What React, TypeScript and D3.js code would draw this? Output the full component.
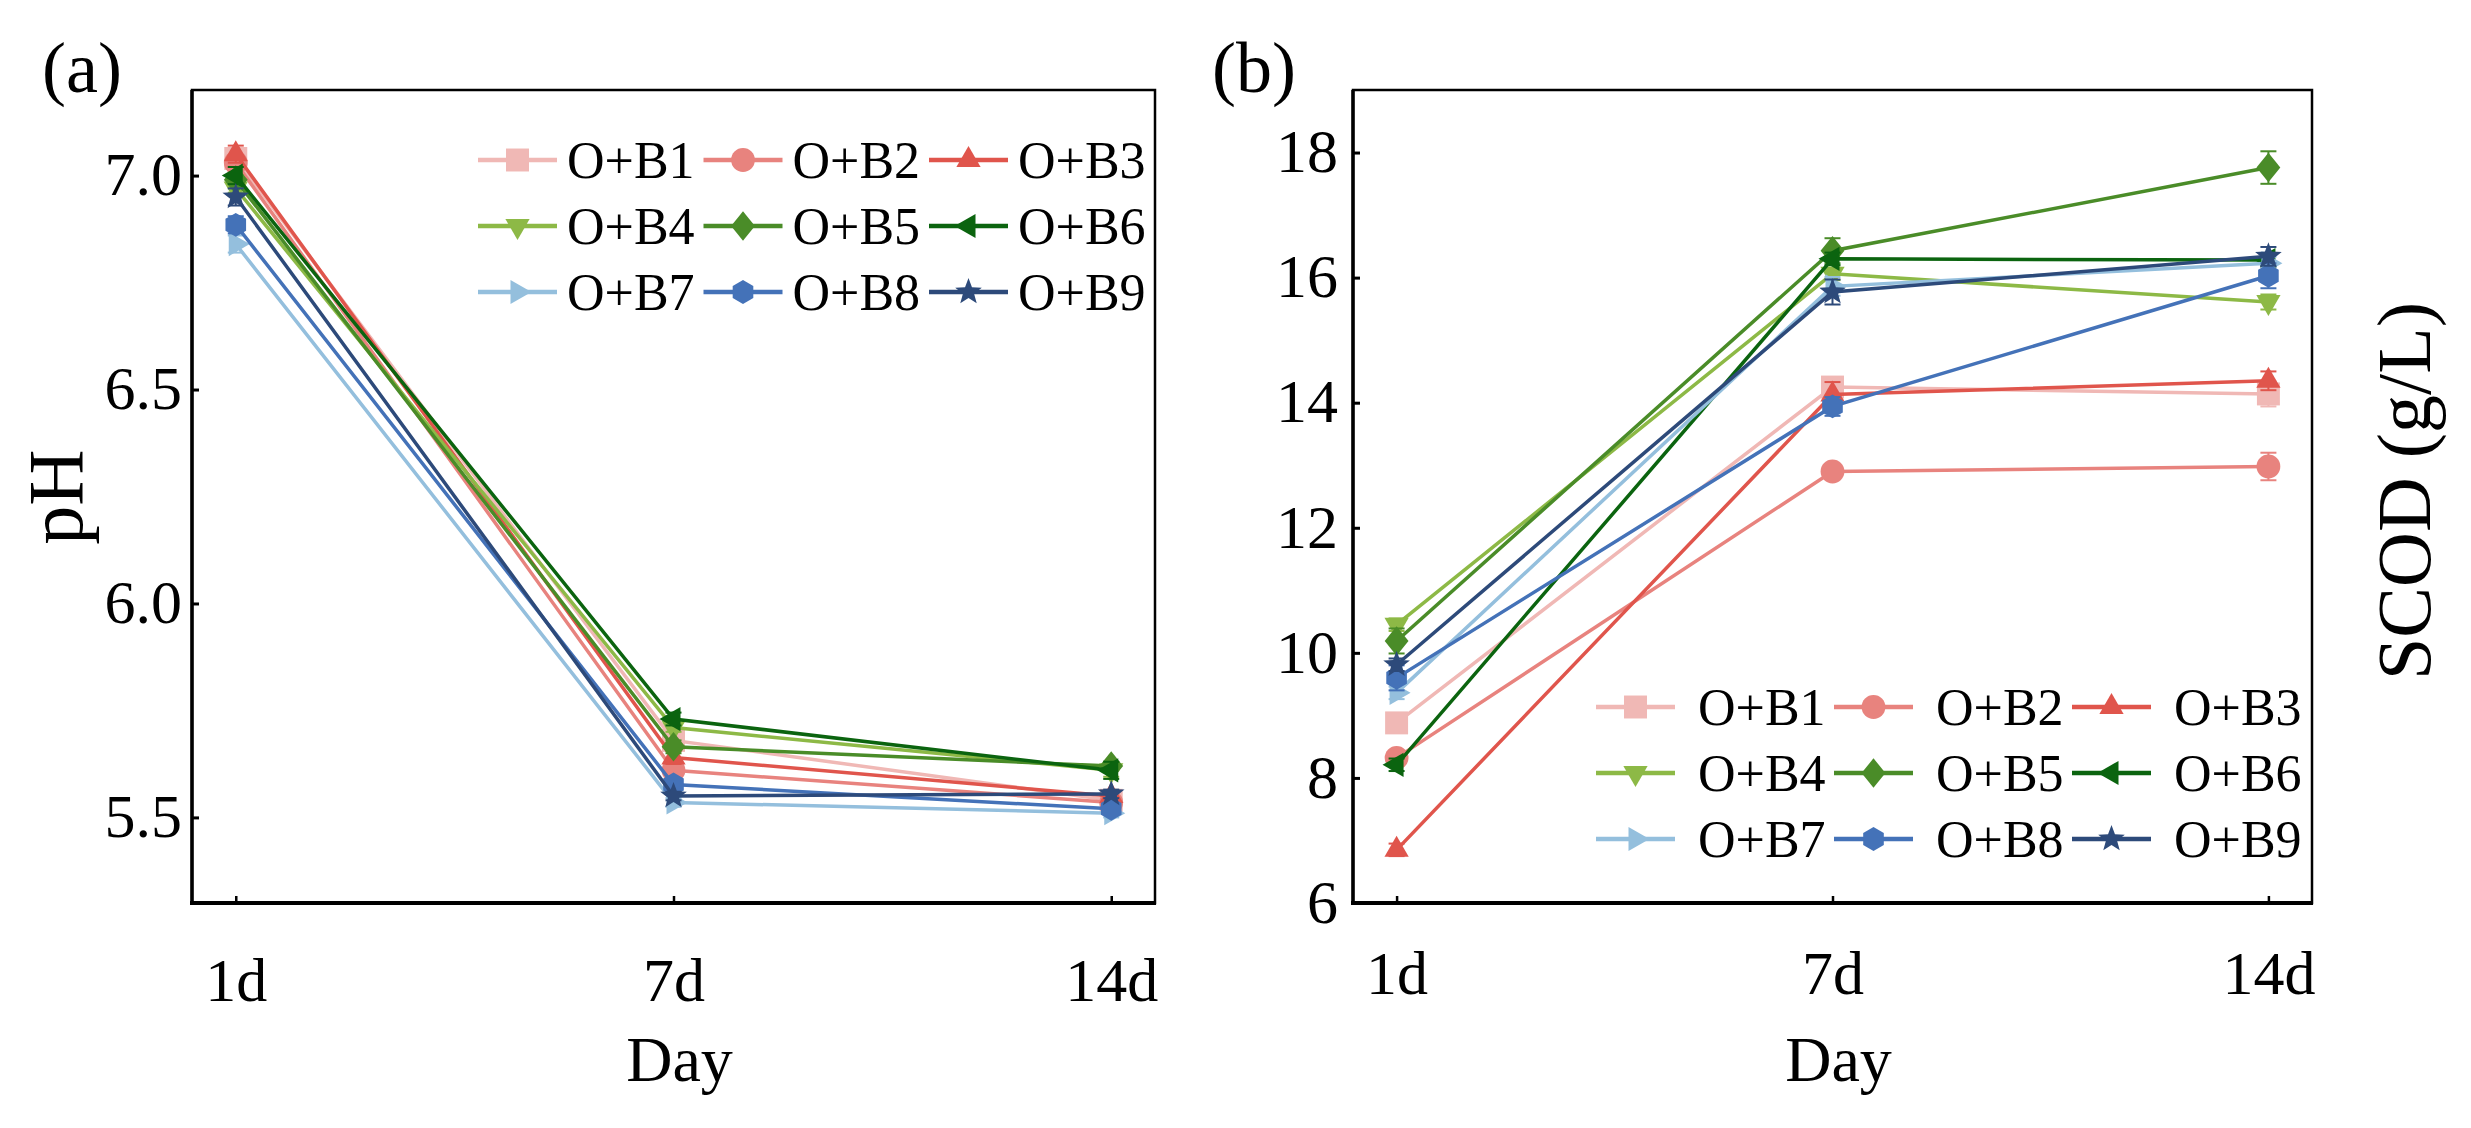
import { useEffect, useRef } from 'react';
import * as d3 from 'd3';

const days = ['1d', '7d', '14d'];
const seriesNames = ['O+B1', 'O+B2', 'O+B3', 'O+B4', 'O+B5', 'O+B6', 'O+B7', 'O+B8', 'O+B9'];
const seriesColors = ['#f0b8b5', '#e8837e', '#e0554c', '#8db946', '#4a8c28', '#0b640f', '#94bfdd', '#4472b8', '#2d4a7a'];
const seriesMarkers = ['square', 'circle', 'triUp', 'triDown', 'diamond', 'triLeft', 'triRight', 'hexagon', 'star'];

// pH values (1d, 7d, 14d)
const phValues = [
  [7.04, 5.68, 5.54],
  [7.03, 5.61, 5.535],
  [7.05, 5.64, 5.55],
  [6.97, 5.71, 5.61],
  [6.99, 5.665, 5.62],
  [7.0, 5.73, 5.61],
  [6.84, 5.535, 5.51],
  [6.885, 5.577, 5.52],
  [6.95, 5.55, 5.555],
];
const phErrors = [
  [0.02, 0.01, 0.01],
  [0.01, 0.01, 0.01],
  [0.02, 0.015, 0.01],
  [0.01, 0.01, 0.015],
  [0.01, 0.015, 0.01],
  [0.02, 0.015, 0.02],
  [0.02, 0.01, 0.01],
  [0.02, 0.015, 0.01],
  [0.02, 0.01, 0.01],
];

// SCOD values, g/L (1d, 7d, 14d)
const scodValues = [
  [8.88, 14.25, 14.14],
  [8.32, 12.9, 12.98],
  [6.85, 14.13, 14.35],
  [10.45, 16.06, 15.61],
  [10.19, 16.43, 17.76],
  [8.21, 16.3, 16.28],
  [9.36, 15.86, 16.23],
  [9.6, 13.94, 16.03],
  [9.81, 15.77, 16.34],
];
const scodErrors = [
  [0.1, 0.15, 0.2],
  [0.1, 0.1, 0.22],
  [0.1, 0.2, 0.15],
  [0.1, 0.1, 0.12],
  [0.2, 0.2, 0.26],
  [0.1, 0.1, 0.1],
  [0.1, 0.15, 0.1],
  [0.2, 0.15, 0.2],
  [0.1, 0.2, 0.15],
];

const phTicks = [5.5, 6.0, 6.5, 7.0];
const scodTicks = [6, 8, 10, 12, 14, 16, 18];

const FONT = "'Times New Roman', 'Liberation Serif', serif";

// custom marker shapes
function poly(ctx: any, pts: [number, number][]) {
  ctx.moveTo(pts[0][0], pts[0][1]);
  pts.slice(1).forEach(p => ctx.lineTo(p[0], p[1]));
  ctx.closePath();
}
function triangle(angle: number) {
  return {
    draw(ctx: any, size: number) {
      const r = size;
      const pts: [number, number][] = [0, 1, 2].map(i => {
        const a = angle + (i * 2 * Math.PI) / 3;
        return [r * Math.cos(a), r * Math.sin(a)];
      });
      poly(ctx, pts);
    },
  };
}
const markerTypes: Record<string, any> = {
  square: { draw(ctx: any, s: number) { const h = s * 0.82; poly(ctx, [[-h, -h], [h, -h], [h, h], [-h, h]]); } },
  circle: { draw(ctx: any, s: number) { ctx.moveTo(s * 0.85, 0); ctx.arc(0, 0, s * 0.85, 0, 2 * Math.PI); } },
  triUp: triangle(-Math.PI / 2),
  triDown: triangle(Math.PI / 2),
  triLeft: triangle(Math.PI),
  triRight: triangle(0),
  diamond: { draw(ctx: any, s: number) { poly(ctx, [[0, -s * 1.05], [s * 0.85, 0], [0, s * 1.05], [-s * 0.85, 0]]); } },
  hexagon: {
    draw(ctx: any, s: number) {
      const r = s * 0.85;
      poly(ctx, d3.range(6).map(i => {
        const a = -Math.PI / 2 + (i * Math.PI) / 3;
        return [r * Math.cos(a), r * Math.sin(a)] as [number, number];
      }));
    },
  },
  star: {
    draw(ctx: any, s: number) {
      const ro = s, ri = s * 0.42;
      poly(ctx, d3.range(10).map(i => {
        const a = -Math.PI / 2 + (i * Math.PI) / 5;
        const r = i % 2 === 0 ? ro : ri;
        return [r * Math.cos(a), r * Math.sin(a)] as [number, number];
      }));
    },
  },
};

interface PanelCfg {
  x0: number; x1: number; y0: number; y1: number;
  domain: [number, number];
  ticks: number[];
  fmt: (v: number) => string;
  values: number[][];
  errors: number[][];
  tickPadY: number;
  tickPadX: number;
  legendX: number; legendY: number; legendColStep: number; legendTextOff: number;
}

function drawPanel(svg: d3.Selection<SVGSVGElement, unknown, null, undefined>, cfg: PanelCfg) {
  const x = d3.scalePoint<string>().domain(days).range([cfg.x0, cfg.x1]).padding(0.1);
  const y = d3.scaleLinear().domain(cfg.domain).range([cfg.y1, cfg.y0]);
  const g = svg.append('g');

  // axes
  const yAxis = g.append('g')
    .attr('transform', `translate(${cfg.x0},0)`)
    .call(d3.axisLeft(y).tickValues(cfg.ticks).tickFormat(d => cfg.fmt(+d)).tickSize(-7).tickPadding(cfg.tickPadY));
  yAxis.select('.domain').remove();
  yAxis.selectAll('line').attr('stroke', '#000').attr('stroke-width', 3);
  yAxis.selectAll('text').attr('font-family', FONT).attr('font-size', 62).attr('fill', '#000').attr('dy', '0.31em');

  const xAxis = g.append('g')
    .attr('transform', `translate(0,${cfg.y1})`)
    .call(d3.axisBottom(x).tickSize(-7).tickPadding(cfg.tickPadX));
  xAxis.select('.domain').remove();
  xAxis.selectAll('line').attr('stroke', '#000').attr('stroke-width', 2.5);
  xAxis.selectAll('text').attr('font-family', FONT).attr('font-size', 62).attr('fill', '#000');

  // frame
  g.append('rect')
    .attr('x', cfg.x0).attr('y', cfg.y0)
    .attr('width', cfg.x1 - cfg.x0).attr('height', cfg.y1 - cfg.y0)
    .attr('fill', 'none').attr('stroke', '#000').attr('stroke-width', 2.5);
  g.append('line').attr('x1', cfg.x0).attr('x2', cfg.x0).attr('y1', cfg.y0).attr('y2', cfg.y1 + 2)
    .attr('stroke', '#000').attr('stroke-width', 3.5);
  g.append('line').attr('x1', cfg.x0 - 2).attr('x2', cfg.x1 + 1).attr('y1', cfg.y1).attr('y2', cfg.y1)
    .attr('stroke', '#000').attr('stroke-width', 4);

  // series
  const line = d3.line<number>().x((_, i) => x(days[i]) || 0).y(d => y(d));
  cfg.values.forEach((vals, si) => {
    const color = seriesColors[si];
    const sg = g.append('g');
    sg.append('path').datum(vals).attr('d', line)
      .attr('fill', 'none').attr('stroke', color).attr('stroke-width', 3.5);
    vals.forEach((v, i) => {
      const cx = x(days[i]) || 0;
      const e = cfg.errors[si][i];
      const eb = sg.append('g').attr('stroke', color).attr('stroke-width', 2);
      eb.append('line').attr('x1', cx).attr('x2', cx).attr('y1', y(v - e)).attr('y2', y(v + e));
      eb.append('line').attr('x1', cx - 8).attr('x2', cx + 8).attr('y1', y(v - e)).attr('y2', y(v - e));
      eb.append('line').attr('x1', cx - 8).attr('x2', cx + 8).attr('y1', y(v + e)).attr('y2', y(v + e));
    });
    sg.selectAll('path.mk').data(vals).join('path').attr('class', 'mk')
      .attr('d', d3.symbol().type(markerTypes[seriesMarkers[si]]).size(14) as any)
      .attr('transform', (d, i) => `translate(${x(days[i])},${y(d)})`)
      .attr('fill', color);
  });

  // legend
  const lg = g.append('g');
  seriesNames.forEach((name, si) => {
    const col = si % 3, row = Math.floor(si / 3);
    const lx = cfg.legendX + col * cfg.legendColStep;
    const ly = cfg.legendY + row * 66;
    lg.append('line').attr('x1', lx).attr('x2', lx + 79).attr('y1', ly).attr('y2', ly)
      .attr('stroke', seriesColors[si]).attr('stroke-width', 4.5);
    lg.append('path')
      .attr('d', d3.symbol().type(markerTypes[seriesMarkers[si]]).size(14) as any)
      .attr('transform', `translate(${lx + 39.5},${ly})`)
      .attr('fill', seriesColors[si]);
    lg.append('text').attr('x', lx + cfg.legendTextOff).attr('y', ly).attr('dy', '0.34em')
      .attr('font-family', FONT).attr('font-size', 52).attr('fill', '#000').text(name);
  });

  // x title
  g.append('text').attr('x', (cfg.x0 + cfg.x1) / 2 + 6).attr('y', 1081)
    .attr('text-anchor', 'middle').attr('font-family', FONT).attr('font-size', 64).text('Day');
}

export default function App() {
  const svgRef = useRef<SVGSVGElement>(null);

  useEffect(() => {
    if (!svgRef.current) return;
    const svg = d3.select(svgRef.current);
    svg.selectAll('*').remove();

    drawPanel(svg, {
      x0: 192, x1: 1155, y0: 90, y1: 903,
      domain: [5.3, 7.2], ticks: phTicks, fmt: d3.format('.1f'),
      values: phValues, errors: phErrors,
      tickPadY: 10, tickPadX: 54,
      legendX: 478, legendY: 160, legendColStep: 225.5, legendTextOff: 89,
    });
    drawPanel(svg, {
      x0: 1353, x1: 2312, y0: 90, y1: 903,
      domain: [6, 19], ticks: scodTicks, fmt: d3.format('d'),
      values: scodValues, errors: scodErrors,
      tickPadY: 15, tickPadX: 47,
      legendX: 1596, legendY: 707, legendColStep: 238, legendTextOff: 102,
    });

    // panel labels and y titles
    svg.append('text').attr('x', 42).attr('y', 92).attr('font-family', FONT).attr('font-size', 72).text('(a)');
    svg.append('text').attr('x', 1212).attr('y', 92).attr('font-family', FONT).attr('font-size', 72).text('(b)');
    svg.append('text').attr('transform', 'translate(82,497) rotate(-90)').attr('text-anchor', 'middle')
      .attr('font-family', FONT).attr('font-size', 78).text('pH');
    svg.append('text').attr('transform', 'translate(2430,491) rotate(-90)').attr('text-anchor', 'middle')
      .attr('font-family', FONT).attr('font-size', 76).text('SCOD (g/L)');
  }, []);

  return (
    <div style={{ position: 'absolute', left: 0, top: 0, background: '#fff' }}>
      <svg ref={svgRef} width={2471} height={1128} style={{ display: 'block' }} />
    </div>
  );
}
